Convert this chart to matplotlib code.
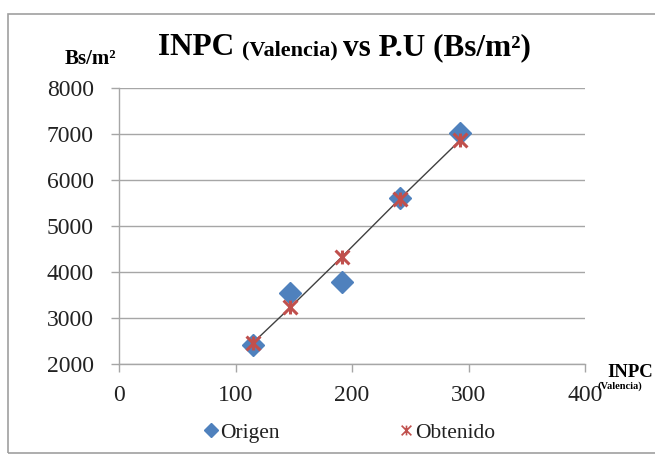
import matplotlib
matplotlib.use("Agg")
import matplotlib.pyplot as plt
from matplotlib.path import Path
from matplotlib.lines import Line2D
from matplotlib.patches import Rectangle

# INPC (Valencia) values and unit prices (Bs/m2)
inpc = [115, 147, 191, 241, 293]
origen = [2420, 3540, 3780, 5600, 7020]
obtenido = [2460, 3230, 4320, 5590, 6870]

x_ticks = [0, 100, 200, 300, 400]
y_ticks = [2000, 3000, 4000, 5000, 6000, 7000, 8000]

blue = "#4f81bd"
red = "#c0504d"
grid_c = "#a6a6a6"

plt.rcParams["font.family"] = ["Liberation Serif", "DejaVu Serif"]

# excel-like star marker: an x with a vertical bar
star = Path([(-1, -1), (1, 1), (-1, 1), (1, -1), (0, -1), (0, 1)],
            [Path.MOVETO, Path.LINETO] * 3)

fig = plt.figure(figsize=(6.55, 4.55), dpi=100)
ax = fig.add_axes([119 / 655, 1 - 364 / 455, 466 / 655, 276 / 455])

ax.plot(inpc, obtenido, color="#404040", lw=1.0, zorder=2)
ax.plot(inpc, origen, ls="none", marker="D", ms=11.5, color=blue,
        mec=blue, zorder=3)
ax.plot(inpc, obtenido, ls="none", marker=star, ms=10, mew=2.2,
        color=red, mec=red, zorder=4)

ax.set_xlim(0, 400)
ax.set_ylim(2000, 8000)
ax.set_xticks(x_ticks)
ax.set_yticks(y_ticks)
ax.tick_params(labelsize=17, length=6, width=1, color=grid_c,
               direction="out", labelcolor="#222222")
ax.tick_params(axis="x", pad=9)
ax.tick_params(axis="y", pad=12)
ax.grid(axis="y", color=grid_c, lw=1)
ax.set_axisbelow(True)
for s in ["top", "right"]:
    ax.spines[s].set_visible(False)
for s in ["left", "bottom"]:
    ax.spines[s].set_color(grid_c)
    ax.spines[s].set_linewidth(1)

# title with a smaller "(Valencia)" part, pieces placed one after another
renderer = fig.canvas.get_renderer()
parts = [("INPC ", 22.5), ("(Valencia) ", 16), ("vs P.U (Bs/m²)", 22.5)]
x0 = 158
for txt, fs in parts:
    t = fig.text(x0 / 655, 1 - 55 / 455, txt, fontsize=fs, fontweight="bold",
                 ha="left", va="baseline")
    x0 += t.get_window_extent(renderer).width

fig.text(65 / 655, 1 - 64 / 455, "Bs/m²", fontsize=15, fontweight="bold",
         ha="left", va="baseline")
fig.text(607 / 655, 1 - 377 / 455, "INPC", fontsize=13.5, fontweight="bold",
         ha="left", va="baseline")
fig.text(598 / 655, 1 - 389 / 455, "(Valencia)", fontsize=7.5,
         fontweight="bold", ha="left", va="baseline")

handles = [
    Line2D([], [], ls="none", marker="D", ms=7, color=blue),
    Line2D([], [], ls="none", marker=star, ms=7, mew=1.2, color=red),
]
fig.legend(handles, ["Origen", "Obtenido"], loc="center",
           bbox_to_anchor=(350 / 655, 1 - 433 / 455), ncol=2, frameon=False,
           fontsize=15.5, handlelength=0.6, handletextpad=0.1,
           columnspacing=5.6, labelcolor="#222222")

fig.add_artist(Rectangle((8 / 655, 0.004), 1.2, 1 - 14 / 455 - 0.004,
                         transform=fig.transFigure, fill=False,
                         ec="#a0a0a0", lw=1.2))

fig.savefig("out.png", dpi=100)
